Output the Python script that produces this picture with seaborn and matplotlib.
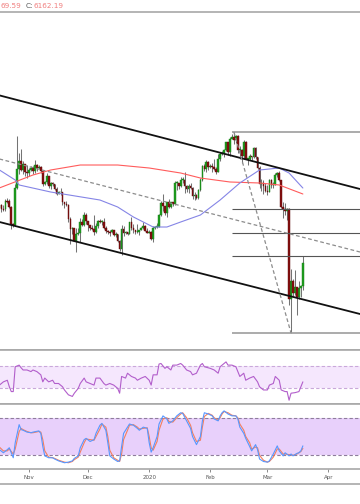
import numpy as np
import pandas as pd
import matplotlib
matplotlib.use("Agg")
import matplotlib.pyplot as plt
from matplotlib.lines import Line2D
import seaborn as sns

# ---- daily candles, 2019-10-17 .. 2020-03-19 ----
first_open = 7990
oct_close = [8080, 7960, 7950, 8230, 8210, 8030, 7460, 7420, 8660, 9260, 9550, 9240, 9430, 9180, 9150]
oct_high = [8120, 8120, 8100, 8300, 8320, 8300, 8040, 7500, 8790, 10370, 9800, 9950, 9550, 9440, 9400]
oct_low = [7930, 7850, 7880, 7870, 8160, 7990, 7300, 7360, 7400, 8600, 9100, 9200, 9100, 9050, 8970]

nov_close = [9250, 9310, 9200, 9400, 9300, 9350, 9200, 8780, 8830, 9030, 8720, 8800, 8770, 8630, 8460,
             8500, 8500, 8170, 8120, 8080, 7620, 7280, 7330, 6900, 7130, 7170, 7520, 7430, 7760, 7560]
nov_high = [9300, 9390, 9370, 9560, 9440, 9420, 9370, 9220, 8890, 9130, 9060, 8850, 8830, 8790, 8680,
            8540, 8660, 8500, 8200, 8220, 8110, 7700, 7350, 7340, 7330, 7330, 7660, 7620, 7860, 7810]
nov_low = [9060, 9210, 9100, 9150, 9220, 9280, 9130, 8700, 8760, 8790, 8660, 8620, 8720, 8570, 8400,
           8440, 8400, 8070, 8000, 8040, 7520, 6800, 7120, 6880, 6520, 7090, 6850, 7380, 7400, 7460]

dec_close = [7420, 7310, 7300, 7200, 7400, 7540, 7510, 7520, 7340, 7220, 7200, 7190, 7250, 7080, 7120, 6880,
             6620, 7290, 7150, 7190, 7140, 7520, 7320, 7250, 7200, 7200, 7250, 7320, 7390, 7220, 7170]
dec_high = [7560, 7430, 7410, 7750, 7490, 7600, 7630, 7580, 7660, 7400, 7260, 7250, 7300, 7260, 7180, 7140,
            6930, 7420, 7380, 7220, 7190, 7520, 7690, 7440, 7270, 7440, 7260, 7370, 7520, 7420, 7320]
dec_low = [7230, 7250, 7250, 7080, 7170, 7340, 7490, 7430, 7280, 7170, 7130, 7070, 7170, 7060, 7040, 6860,
           6560, 6430, 7050, 7130, 7090, 7130, 7260, 7170, 7130, 7150, 7080, 7250, 7290, 7220, 7150]

jan_close = [7180, 6950, 7340, 7350, 7360, 7760, 8150, 8050, 7820, 8190, 8020, 8180, 8110, 8810, 8820, 8720,
             8900, 8910, 8700, 8630, 8720, 8660, 8390, 8430, 8330, 8590, 8900, 9390, 9290, 9500, 9340]
jan_high = [7250, 7210, 7400, 7390, 7490, 7800, 8210, 8440, 8050, 8200, 8270, 8190, 8190, 8880, 8890, 8820,
            9000, 9000, 9190, 8740, 8780, 8800, 8670, 8530, 8440, 8600, 8980, 9400, 9430, 9560, 9530]
jan_low = [7150, 6930, 6870, 7280, 7330, 7350, 7720, 7900, 7760, 7680, 7990, 7970, 8060, 8100, 8580, 8620,
           8680, 8810, 8490, 8530, 8480, 8600, 8300, 8240, 8280, 8290, 8560, 8880, 9220, 9180, 9230]

feb_close = [9380, 9330, 9290, 9180, 9610, 9760, 9800, 9900, 10160, 9850, 10270, 10350, 10230, 10360, 9900,
             9920, 9700, 10170, 9600, 9610, 9690, 9660, 9960, 9660, 9310, 8790, 8800, 8710, 8540]
feb_high = [9440, 9470, 9610, 9350, 9760, 9830, 9870, 9940, 10160, 10170, 10330, 10450, 10500, 10400, 10390,
            10050, 9950, 10250, 10190, 9650, 9780, 9700, 9990, 10020, 9660, 9360, 8960, 8900, 8800]
feb_low = [9300, 9170, 9230, 9100, 9170, 9550, 9730, 9670, 9880, 9730, 9710, 10260, 10090, 10120, 9800,
           9620, 9480, 9610, 9600, 9420, 9580, 9590, 9650, 9600, 9280, 8660, 8550, 8460, 8520]

mar_close = [8530, 8910, 8760, 8760, 9070, 9150, 8900, 8030, 7940, 7900, 7950, 4970, 5560, 5170, 5360,
             5030, 5330, 5400, 6170]
mar_high = [8750, 8950, 8930, 8840, 9150, 9190, 9200, 8900, 8180, 8150, 7990, 7970, 5960, 5650, 5940,
            5370, 5560, 5450, 6410]
mar_low = [8420, 8500, 8660, 8660, 8750, 9010, 8880, 8000, 7640, 7750, 7590, 4780, 3850, 5080, 5100,
           4440, 4960, 5050, 5260]

# ---- moving averages (day offset from 2019-11-01, price) ----
ma_red_days = [-15, 2, 11, 26, 45, 61, 77, 87, 102, 117, 127, 139]
ma_red = [8650, 9077, 9243, 9408, 9408, 9309, 9143, 8978, 8846, 8813, 8747, 8449]
ma_blue_days = [-15, -7, -5, 11, 36, 45, 53, 63, 70, 77, 87, 97, 107, 117, 127, 132, 139]
ma_blue = [9243, 8912, 8747, 8515, 8250, 8019, 7688, 7357, 7357, 7523, 7754, 8250, 8813, 9243, 9309, 9143, 8647]

# ---- drawings ----
line_dates = ["2019-10-17", "2020-04-17"]
channel_upper = [11711, 8614]
channel_lower = [7523, 4479]
channel_mid = [9607, 6530]
fib_high_date, fib_low_date = "2020-02-13", "2020-03-13"
fib_high, fib_low = 10500, 3850
fib_ratios = [0.0, 0.382, 0.5, 0.618, 1.0]
fib_start = "2020-02-12"

# ---- RSI (day offset, value) ----
rsi_days = [-15, -13, -11, -10, -9, -8, -7, -5, -4, -3, -1, 1, 2, 4, 6, 7, 8, 10, 12, 13, 15, 17, 18, 20, 22,
            23, 25, 26, 28, 29, 31, 33, 34, 36, 38, 39, 41, 43, 45, 46, 47, 49, 50, 52, 54, 55, 57, 59, 61,
            62, 63, 65, 66, 67, 69, 70, 72, 73, 75, 77, 78, 80, 82, 83, 85, 87, 88, 89, 92, 94, 96, 97, 99,
            100, 101, 103, 105, 106, 107, 109, 110, 112, 114, 116, 117, 119, 121, 122, 124, 125, 127, 128,
            130, 131, 132, 133, 135, 137, 138, 139]
rsi_vals = [35, 41, 44, 32, 23, 23, 69, 72, 67, 63, 63, 60, 63, 60, 54, 41, 48, 41, 44, 38, 38, 32, 26, 17, 14,
            20, 29, 38, 48, 41, 38, 35, 48, 48, 38, 35, 38, 35, 29, 20, 51, 48, 57, 51, 48, 44, 48, 51, 44,
            35, 54, 54, 74, 75, 66, 69, 63, 72, 72, 75, 72, 63, 60, 54, 57, 72, 75, 69, 66, 63, 57, 69, 75,
            78, 72, 72, 69, 60, 51, 57, 44, 48, 51, 41, 32, 26, 26, 35, 38, 51, 44, 26,
            23, 23, 7, 20, 21, 23, 32, 41]

# ---- stochastic (day offset, %K blue, %D orange) ----
stoch_days = [-15, -13, -11, -10, -8, -7, -5, -4, -3, -1, 1, 2, 5, 6, 7, 8, 10, 12, 13, 15, 17, 18, 20, 22,
              23, 25, 26, 28, 29, 31, 33, 34, 36, 37, 39, 40, 41, 43, 45, 46, 47, 48, 50, 51, 53, 55, 56, 58,
              60, 61, 62, 63, 65, 66, 68, 70, 71, 73, 75, 77, 78, 80, 82, 83, 85, 87, 88, 89, 91, 93, 94, 96,
              97, 98, 99, 101, 103, 105, 106, 107, 109, 110, 112, 113, 115, 116, 117, 119, 121, 122, 124,
              126, 127, 129, 130, 132, 133, 134, 136, 137, 138, 139]
stoch_k = [29, 24, 29, 32, 16, 40, 69, 61, 60, 57, 56, 57, 59, 55, 34, 19, 16, 16, 14, 11, 9, 8, 9, 11,
           15, 19, 32, 45, 47, 42, 45, 55, 68, 71, 60, 40, 19, 14, 10, 11, 34, 55, 65, 70, 68, 63, 60, 65,
           63, 40, 25, 32, 50, 70, 83, 78, 71, 75, 83, 88, 87, 75, 63, 50, 37, 50, 75, 88, 86, 83, 78, 75,
           83, 88, 91, 86, 83, 83, 78, 65, 55, 47, 34, 27, 37, 29, 14, 10, 9, 11, 22,
           35, 27, 19, 24, 19, 22, 19, 23, 24, 27, 35]
stoch_d = [33, 27, 27, 30, 22, 30, 58, 63, 61, 58, 56, 56, 58, 57, 45, 27, 17, 16, 15, 12, 10, 9, 8, 10,
           13, 17, 25, 40, 46, 45, 44, 50, 62, 70, 65, 50, 28, 16, 12, 10, 22, 45, 60, 68, 69, 65, 62, 63,
           64, 50, 32, 28, 42, 60, 78, 80, 74, 73, 80, 86, 88, 80, 68, 56, 42, 44, 65, 82, 87, 84, 80, 76,
           80, 86, 90, 88, 84, 83, 80, 70, 60, 50, 40, 30, 33, 32, 20, 12, 9, 10, 17,
           30, 30, 22, 22, 21, 21, 20, 22, 24, 26, 31]

tick_dates = ["2019-11-01", "2019-12-01", "2020-01-01", "2020-02-01", "2020-03-01", "2020-04-01"]
tick_labels = ["Nov", "Dec", "2020", "Feb", "Mar", "Apr"]

# ------------------------------------------------------------------
closes = np.array(oct_close + nov_close + dec_close + jan_close + feb_close + mar_close, dtype=float)
highs = np.array(oct_high + nov_high + dec_high + jan_high + feb_high + mar_high, dtype=float)
lows = np.array(oct_low + nov_low + dec_low + jan_low + feb_low + mar_low, dtype=float)
opens = np.concatenate([[first_open], closes[:-1]])
dates = pd.date_range("2019-10-17", periods=len(closes), freq="D")

base = pd.Timestamp("2019-11-01")
to_dates = lambda days: base + pd.to_timedelta(days, unit="D")

sns.set_style("white")
plt.rcParams["font.family"] = ["DejaVu Sans"]

W, H = 360, 504
fig = plt.figure(figsize=(W / 100, H / 100), dpi=100)
fig.patch.set_facecolor("white")


def band(top, bottom):
    return [0, 1 - bottom / H, 1, (bottom - top) / H]


ax = fig.add_axes(band(12, 350))
ax_rsi = fig.add_axes(band(350, 404), sharex=ax)
ax_st = fig.add_axes(band(404, 469), sharex=ax)

sep = "#a8a8a8"
for a in (ax, ax_rsi, ax_st):
    a.set_facecolor("white")
    for s in ("left", "right"):
        a.spines[s].set_visible(False)
    for s in ("top", "bottom"):
        a.spines[s].set_color(sep)
        a.spines[s].set_linewidth(1.2)

# candles
up = closes >= opens
ax.vlines(dates, lows, highs, color="#747474", lw=0.75, zorder=2)
body = np.maximum(np.abs(closes - opens), 30)
ax.bar(dates[up], body[up], bottom=opens[up], width=0.85, color="#1f9f1f",
       edgecolor="#157a15", lw=0.3, zorder=2.5)
ax.bar(dates[~up], -body[~up], bottom=opens[~up], width=0.85, color="#860f0f",
       edgecolor="#5e0a0a", lw=0.3, zorder=2.5)

# moving averages
sns.lineplot(x=to_dates(ma_red_days), y=ma_red, ax=ax, color="#ff5c5c", lw=0.8, zorder=3)
sns.lineplot(x=to_dates(ma_blue_days), y=ma_blue, ax=ax, color="#8585e6", lw=0.8, zorder=3)

# channel
ld = pd.to_datetime(line_dates)
ax.plot(ld, channel_upper, color="#111111", lw=1.3, zorder=4)
ax.plot(ld, channel_lower, color="#111111", lw=1.3, zorder=4)
ax.plot(ld, channel_mid, color="#8c8c8c", lw=0.9, ls=(0, (3, 2)), zorder=4)

# fibonacci
ax.plot(pd.to_datetime([fib_high_date, fib_low_date]), [fib_high, fib_low],
        color="#8c8c8c", lw=0.9, ls=(0, (3, 2)), zorder=4)
for r in fib_ratios:
    lvl = fib_high - r * (fib_high - fib_low)
    edge = r in (0.0, 1.0)
    ax.hlines(lvl, pd.Timestamp(fib_start), pd.Timestamp("2020-05-15"),
              color="#a5a5a5" if edge else "#555555", lw=1.3 if edge else 0.8, zorder=3)

ax.set_ylim(3288, 14470)

# RSI
ax_rsi.axhspan(30, 70, color="#f5e7fd", lw=0, zorder=0)
ax_rsi.hlines([30, 70], base - pd.Timedelta(days=40), base + pd.Timedelta(days=220),
              color="#c9a8da", lw=0.8, ls=(0, (3, 2)), zorder=1)
sns.lineplot(x=to_dates(rsi_days), y=rsi_vals, ax=ax_rsi, color="#b25ecb", lw=0.8, zorder=3)
ax_rsi.set_ylim(0, 100)

# stochastic
ax_st.axhspan(20, 80, color="#e8d0fb", lw=0, zorder=0)
ax_st.hlines([20, 80], base - pd.Timedelta(days=40), base + pd.Timedelta(days=220),
             color="#8e7d9c", lw=0.8, ls=(0, (3, 2)), zorder=1)
sns.lineplot(x=to_dates(stoch_days), y=stoch_d, ax=ax_st, color="#f47e5e", lw=0.8, zorder=3)
sns.lineplot(x=to_dates(stoch_days), y=stoch_k, ax=ax_st, color="#5797ff", lw=0.8, zorder=3)
ax_st.set_ylim(-2, 102)

for a in (ax, ax_rsi, ax_st):
    a.set_yticks([])
    a.set_ylabel("")
    a.set_xlabel("")
for a in (ax, ax_rsi):
    a.tick_params(axis="x", bottom=False, labelbottom=False)

ax_st.set_xticks(pd.to_datetime(tick_dates))
ax_st.set_xticklabels(tick_labels)
ax_st.tick_params(axis="x", bottom=True, length=2, width=0.6, color="#777777",
                  labelsize=4, labelcolor="#555555", pad=2.3)
ax.set_xlim(base - pd.Timedelta(days=14.72), base + pd.Timedelta(days=168))

fig.add_artist(Line2D([0, 1], [1 - 484 / H] * 2, color=sep, lw=1.2))

# header (cropped OHLC readout)
hy = 1 - 5.5 / H
fig.text(0.5 / W, hy, "69.59", color="#f07f7f", fontsize=5.2, va="center", ha="left")
fig.text(25.5 / W, hy, "C:", color="#555555", fontsize=5.2, va="center", ha="left")
fig.text(33.5 / W, hy, "6162.19", color="#f07f7f", fontsize=5.2, va="center", ha="left")

fig.savefig("out.png", dpi=100, facecolor="white")
